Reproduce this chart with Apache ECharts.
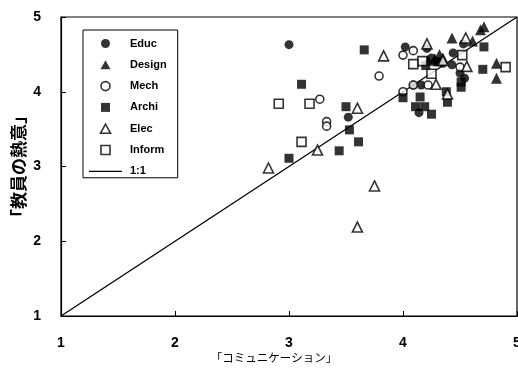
<!DOCTYPE html>
<html><head><meta charset="utf-8">
<script src="https://cdn.jsdelivr.net/npm/echarts@6/dist/echarts.min.js"></script>
<style>html,body{margin:0;padding:0;background:#fff}#c{width:518px;height:377px}</style>
</head><body><div id="c"></div>
<script>
const ticks = [1, 2, 3, 4, 5];
const educ = [[3.0,4.63],[3.52,3.66],[4.02,4.6],[4.21,4.58],[4.44,4.52],[4.53,4.64],[4.43,4.36],[4.54,4.18],[4.09,4.09],[4.16,4.09],[4.14,3.72],[4.25,4.45],[4.3,4.4],[4.5,4.25],[4.35,4.38]];
const design = [[4.71,4.87],[4.68,4.83],[4.43,4.72],[4.61,4.68],[4.32,4.5],[4.82,4.38],[4.82,4.18],[4.28,4.44],[4.35,4.45],[4.22,4.42]];
const mech = [[3.79,4.21],[3.27,3.9],[3.33,3.6],[3.33,3.54],[4.09,4.55],[4.0,4.49],[4.5,4.33],[4.09,4.09],[4.22,4.09],[4.0,4.0]];
const archi = [[3.66,4.56],[3.11,4.1],[3.5,3.8],[3.53,3.49],[3.61,3.33],[3.44,3.21],[3.0,3.11],[4.71,4.6],[4.7,4.3],[4.51,4.13],[4.51,4.06],[4.0,3.92],[4.15,3.93],[4.38,4.0],[4.39,3.86],[4.11,3.8],[4.19,3.8],[4.25,3.7],[4.3,4.4],[4.2,4.35]];
const elec = [[3.83,4.48],[3.6,3.78],[3.25,3.22],[2.82,2.98],[3.75,2.74],[3.6,2.19],[4.21,4.64],[4.55,4.72],[4.35,4.42],[4.56,4.34],[4.29,4.1],[4.39,3.97]];
const inform = [[2.91,3.84],[3.18,3.84],[3.11,3.33],[4.17,4.41],[4.09,4.37],[4.52,4.49],[4.9,4.33],[4.25,4.24]];
const oneToOne = [[1,1],[5,5]];

const F = '"Liberation Sans", Arial, sans-serif';
const filled = {color:'#000'};
const hollow = {color:'#fff', borderColor:'#000', borderWidth:1.6};
const TRI = 'path://M5,0L10,9L0,9Z';
const SQ = 'path://M0,0H10V10H0Z';
function sc(name, data, symbol, size, style){
  return {name, type:'scatter', data, symbol, symbolSize:size, itemStyle:style, z:3, emphasis:{disabled:true}};
}
const chart = echarts.init(document.getElementById('c'), null, {renderer:'canvas'});
chart.setOption({
  animation:false,
  backgroundColor:'#fff',
  grid:{left:61, top:17, width:456, height:299, outerBoundsMode:'none', containLabel:false, show:true, borderColor:'#000', borderWidth:1.2, backgroundColor:'transparent'},
  legend:{
    orient:'vertical', left:83, top:30, padding:[8,11,1,6],
    itemWidth:33, itemHeight:9, itemGap:10.3, symbolKeepAspect:true,
    borderColor:'#000', borderWidth:1, backgroundColor:'#fff',
    textStyle:{fontFamily:F, fontWeight:'bold', fontSize:11, color:'#000', padding:[0,0,0,3]},
    data:[
      {name:'Educ', icon:'circle', itemStyle:filled},
      {name:'Design', icon:TRI, itemStyle:filled},
      {name:'Mech', icon:'circle', itemStyle:hollow},
      {name:'Archi', icon:SQ, itemStyle:filled},
      {name:'Elec', icon:TRI, itemStyle:hollow},
      {name:'Inform', icon:SQ, itemStyle:hollow},
      {name:'1:1', icon:'path://M0,0H33V1.3H0Z', itemStyle:{color:'#000'}}]
  },
  xAxis:{
    type:'value', min:1, max:5, interval:1,
    name:'「コミュニケーション」', nameLocation:'middle', nameGap:36, nameMoveOverlap:false,
    nameTextStyle:{fontFamily:'"Noto Sans CJK JP", sans-serif', fontSize:11.5, color:'#000', padding:[0,30,0,0]},
    axisLine:{lineStyle:{color:'#000', width:1.2}},
    axisTick:{inside:true, length:5, lineStyle:{color:'#000'}},
    axisLabel:{fontFamily:F, fontWeight:'bold', fontSize:14, color:'#000', margin:20, formatter:v=>ticks.includes(v)?String(v):''},
    splitLine:{show:false}
  },
  yAxis:{
    type:'value', min:1, max:5, interval:1,
    name:'「教員の熱意」', nameLocation:'middle', nameGap:34, nameRotate:90, nameMoveOverlap:false,
    nameTextStyle:{fontFamily:'"Noto Sans CJK JP", sans-serif', fontSize:17, fontWeight:'bold', color:'#000'},
    axisLine:{lineStyle:{color:'#000', width:1.2}},
    axisTick:{inside:true, length:5, lineStyle:{color:'#000'}},
    axisLabel:{fontFamily:F, fontWeight:'bold', fontSize:14, color:'#000', margin:20, formatter:v=>ticks.includes(v)?String(v):''},
    splitLine:{show:false}
  },
  series:[
    sc('Educ', educ, 'circle', 9, filled),
    sc('Design', design, 'triangle', 11, filled),
    sc('Mech', mech, 'circle', 8, hollow),
    sc('Archi', archi, 'rect', 9, filled),
    sc('Elec', elec, 'triangle', 10, hollow),
    sc('Inform', inform, 'rect', 9, hollow),
    {name:'1:1', type:'line', data:oneToOne, symbol:'none', z:1, itemStyle:{color:'#000'}, lineStyle:{color:'#000', width:1.3}, emphasis:{disabled:true}}
  ]
});
</script></body></html>
